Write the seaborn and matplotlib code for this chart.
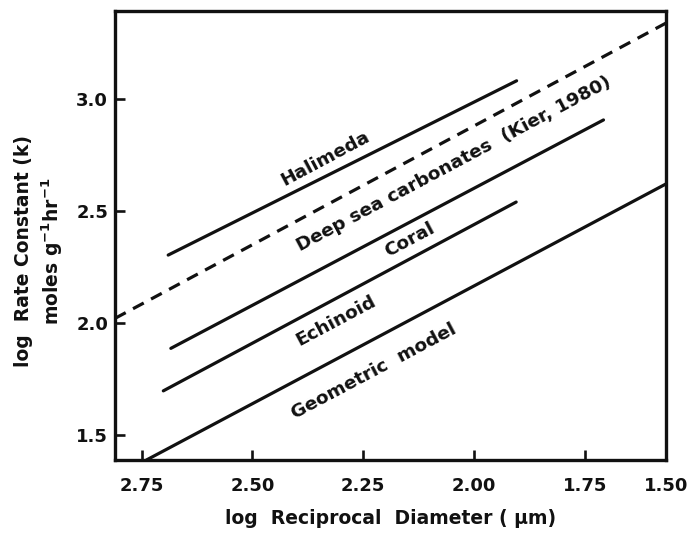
import matplotlib
matplotlib.use("Agg")
import matplotlib.pyplot as plt
import seaborn as sns
import pandas as pd

# line end points (x axis runs high -> low)
halimeda_x = [2.690, 1.904]
halimeda_y = [2.304, 3.083]
deepsea_x = [2.810, 1.567]
deepsea_y = [2.021, 3.341]
coral_x = [2.684, 1.708]
coral_y = [1.887, 2.908]
echinoid_x = [2.701, 1.905]
echinoid_y = [1.697, 2.541]
geometric_x = [2.739, 1.567]
geometric_y = [1.388, 2.622]

series_names = ["Halimeda", "Deep sea", "Coral", "Echinoid", "Geometric"]

# in-plot labels
label_text = ["Halimeda", "Deep sea carbonates  (Kier, 1980)", "Coral",
              "Echinoid", "Geometric  model"]
label_x = [2.335, 2.045, 2.145, 2.312, 2.226]
label_y = [2.736, 2.713, 2.371, 2.011, 1.783]

x_ticks = [2.75, 2.50, 2.25, 2.00, 1.75]
y_ticks = [1.5, 2.0, 2.5, 3.0]

sns.set_theme(style="ticks")
plt.rcParams["font.family"] = ["DejaVu Sans"]
plt.rcParams["font.weight"] = "bold"
plt.rcParams["mathtext.fontset"] = "dejavusans"
plt.rcParams["mathtext.default"] = "bf"

df = pd.concat([
    pd.DataFrame({"x": halimeda_x, "y": halimeda_y, "series": "Halimeda"}),
    pd.DataFrame({"x": deepsea_x, "y": deepsea_y, "series": "Deep sea"}),
    pd.DataFrame({"x": coral_x, "y": coral_y, "series": "Coral"}),
    pd.DataFrame({"x": echinoid_x, "y": echinoid_y, "series": "Echinoid"}),
    pd.DataFrame({"x": geometric_x, "y": geometric_y, "series": "Geometric"}),
], ignore_index=True)

fig = plt.figure(figsize=(6.97, 5.34), dpi=100)
ax = fig.add_axes([0.165, 0.1386, 0.7905, 0.8408])

for name in series_names:
    sub = df[df["series"] == name]
    if name == "Deep sea":
        sns.lineplot(data=sub, x="x", y="y", ax=ax, color="#111111", lw=2.3,
                     linestyle=(0, (3.8, 2.6)), sort=False)
    else:
        sns.lineplot(data=sub, x="x", y="y", ax=ax, color="#111111", lw=2.3,
                     sort=False)

for txt, lx, ly in zip(label_text, label_x, label_y):
    ax.text(lx, ly, txt, fontsize=13.3, fontweight="bold", rotation=28,
            rotation_mode="anchor", ha="center", va="center", color="#111111")

ax.set_xlim(2.81, 1.567)
ax.set_ylim(1.388, 3.395)
ax.set_xticks(x_ticks)
ax.set_xticklabels([f"{t:.2f}" for t in x_ticks])
ax.set_yticks(y_ticks)
ax.set_yticklabels([f"{t:.1f}" for t in y_ticks])
# the right corner carries the 1.50 label in the original
ax.annotate("1.50", xy=(1, 0), xycoords="axes fraction", xytext=(0, -12),
            textcoords="offset points", ha="center", va="top",
            fontsize=13, fontweight="bold", color="#111111")

ax.tick_params(direction="in", length=7, width=1.9, colors="#111111",
               labelsize=13)
ax.tick_params(axis="x", pad=12)
ax.tick_params(axis="y", pad=5)
for sp in ax.spines.values():
    sp.set_linewidth(2.4)
    sp.set_color("#111111")

ax.set_xlabel("log  Reciprocal  Diameter ( μm)", fontsize=13.5,
              fontweight="bold", labelpad=10, color="#111111")
ax.set_ylabel("log  Rate Constant (k)\nmoles g$^{-1}$hr$^{-1}$", fontsize=13.5,
              fontweight="bold", linespacing=1.35, color="#111111")
ax.yaxis.set_label_coords(-0.091, 0.465)

fig.savefig("out.png", dpi=100, facecolor="white")
